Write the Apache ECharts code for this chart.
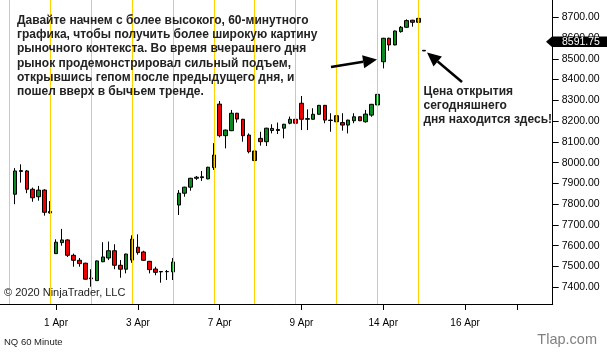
<!DOCTYPE html>
<html>
<head>
<meta charset="utf-8">
<script src="https://cdn.jsdelivr.net/npm/echarts@6/dist/echarts.min.js"></script>
<style>
html,body{margin:0;padding:0;background:#fff;}
#c{width:607px;height:352px;}
</style>
</head>
<body>
<div id="c"></div>
<script>
// Hourly bars (bar 1 .. bar 71)
const opens  = [7848,7958,7960,7872,7836,7868,7765, 7562,7615,7628,7554,7530,7516,7445, 7432,7523,7541,7576,7506,7487,7531, 7593,7570,7525,7488,7476,7475,7474, 7796,7853,7882,7925,7928,7922,7976, 8282,8130,8154,8238,8209,8133,8056, 8117,8101,8155,8160,8166,8190,8209, 8286,8209,8209,8233,8276,8205,8197, 8193,8181,8202,8221,8197,8229,8278, 8486,8599,8567,8631,8652,8686,8676, 8541];
const closes = [7960,7962,7872,7831,7868,7761,7758, 7617,7628,7554,7530,7514,7439,7441, 7527,7546,7576,7506,7487,7560,7632, 7567,7530,7485,7472,7474,7476,7522, 7853,7882,7925,7930,7932,7978,8037, 8130,8157,8238,8210,8130,8053,8010, 8101,8166,8165,8155,8185,8209,8190, 8209,8212,8233,8276,8205,8203,8226, 8181,8205,8221,8202,8234,8281,8329, 8599,8567,8634,8652,8684,8676,8695, 8538];
const lows   = [7800,7904,7853,7812,7817,7745,7755, 7562,7600,7546,7499,7499,7437,7403, 7430,7521,7531,7487,7446,7467,7518, 7557,7528,7467,7458,7422,7435,7435, 7748,7836,7865,7917,7912,7920,7965, 8122,8069,8152,8193,8101,8045,7989, 8082,8080,8141,8138,8117,8185,8153, 8157,8157,8207,8231,8190,8149,8173, 8154,8141,8190,8200,8193,8221,8270, 8454,8539,8565,8626,8650,8655,8668, 8538];
const highs  = [7974,7992,7965,7880,7888,7872,7815, 7631,7681,7631,7562,7541,7518,7487, 7529,7617,7620,7607,7531,7562,7650, 7655,7576,7527,7499,7477,7483,7541, 7868,7884,7927,7936,7960,7980,8094, 8297,8159,8254,8240,8211,8141,8161, 8149,8168,8185,8193,8187,8222,8241, 8321,8257,8262,8278,8278,8238,8243, 8238,8207,8238,8223,8254,8283,8334, 8601,8602,8636,8658,8690,8688,8706, 8541];

// bar numbers of the day-separator lines, date ticks and their labels
const dayLineBars = [0,7,14,21,28,35,42,49,56,63,70];
const dateTickBars = [8,22,36,50,64,78,87];
const dateTickLabels = ['1 Apr','3 Apr','7 Apr','9 Apr','14 Apr','16 Apr',''];
const yTicks = [7400,7500,7600,7700,7800,7900,8000,8100,8200,8300,8400,8500,8600,8700];
const lastPrice = 8591.75;

const textBlock1 = [
  'Давайте начнем с более высокого, 60-минутного',
  'графика, чтобы получить более широкую картину',
  'рыночного контекста. Во время вчерашнего дня',
  'рынок продемонстрировал сильный подъем,',
  'открывшись гепом после предыдущего дня, и',
  'пошел вверх в бычьем тренде.'
];
const textBlock2 = ['Цена открытия','сегодняшнего','дня находится здесь!'];

// category slots: bar k sits at category index k+2
const FIRST_BAR = -2, LAST_BAR = 93;
const cats = [];
const candleData = [];
for (let k = FIRST_BAR; k <= LAST_BAR; k++) {
  cats.push(String(k));
  if (k >= 1 && k <= opens.length) {
    candleData.push([opens[k-1], closes[k-1], lows[k-1], highs[k-1]]);
  } else {
    candleData.push('-');
  }
}
const idxOf = k => k - FIRST_BAR;
const tickIdx = {};
dateTickBars.forEach((b,i)=>{ tickIdx[idxOf(b)] = dateTickLabels[i]; });

const chart = echarts.init(document.getElementById('c'), null, {renderer:'canvas'});
const FONT = '"Liberation Sans", Arial, sans-serif';

chart.setOption({
  animation: false,
  backgroundColor: '#fff',
  grid: { left: -2.38, right: 54.3, top: 0, bottom: 48, containLabel: false, outerBoundsMode: 'none' },
  xAxis: {
    type: 'category', data: cats, boundaryGap: false,
    axisLine: { show: true, lineStyle: { color: '#000', width: 1 } },
    axisTick: { show: true, length: 6, lineStyle: { color: '#000' },
      interval: (i) => tickIdx.hasOwnProperty(i) },
    axisLabel: { show: true, margin: 14, color: '#000', fontSize: 10, fontFamily: FONT,
      interval: (i) => tickIdx.hasOwnProperty(i) && tickIdx[i] !== '',
      formatter: (v, i) => tickIdx[i] || '' },
    splitLine: { show: false }
  },
  yAxis: {
    type: 'value', position: 'right', min: 7319.5, max: 8783.3,
    axisLine: { show: true, lineStyle: { color: '#000', width: 1 } },
    axisTick: { show: true, length: 6, lineStyle: { color: '#000' }, customValues: yTicks },
    axisLabel: { show: true, margin: 9, color: '#000', fontSize: 10.5, fontFamily: FONT,
      customValues: yTicks, formatter: v => Number(v).toFixed(2) },
    splitLine: { show: false }
  },
  series: [{
    type: 'candlestick',
    data: candleData,
    barWidth: 4,
    itemStyle: { color: '#0a8a1f', color0: '#ee0000', borderColor: '#000', borderColor0: '#000', borderWidth: 1 },
    markLine: {
      silent: true, symbol: ['none','none'], animation: false,
      label: { show: false },
      lineStyle: { color: '#FFD200', width: 1, type: 'solid' },
      emphasis: { disabled: true },
      data: dayLineBars.map(b => ({ xAxis: idxOf(b) }))
    },
    z: 3
  }]
});

// annotations
function arrow(x1,y1,x2,y2){
  const dx=x2-x1, dy=y2-y1, L=Math.hypot(dx,dy), ux=dx/L, uy=dy/L;
  const hl=14, hw=6.5;
  const bx=x2-hl*ux, by=y2-hl*uy, nx=-uy, ny=ux;
  return [
    { type:'line', shape:{x1:x1,y1:y1,x2:bx,y2:by}, style:{stroke:'#000', lineWidth:2.5}, z:50 },
    { type:'polygon', shape:{points:[[x2,y2],[bx+hw*nx,by+hw*ny],[bx-hw*nx,by-hw*ny]]}, style:{fill:'#000'}, z:50 }
  ];
}
const g = [];
textBlock1.forEach((t,i)=>g.push({type:'text', z:60, style:{text:t, x:17, y:20.7+i*14.2, verticalAlign:'middle', font:'bold 12px '+FONT, fill:'#222'}}));
textBlock2.forEach((t,i)=>g.push({type:'text', z:60, style:{text:t, x:423.5, y:91.7+i*13.8, verticalAlign:'middle', font:'bold 12px '+FONT, fill:'#222'}}));
g.push({type:'text', z:60, style:{text:'© 2020 NinjaTrader, LLC', x:4, y:292.7, verticalAlign:'middle', font:'11px '+FONT, fill:'#222'}});
g.push({type:'text', z:60, style:{text:'NQ 60 Minute', x:4, y:342.8, verticalAlign:'middle', font:'9.5px '+FONT, fill:'#222'}});
g.push({type:'text', z:60, style:{text:'Tlap.com', x:597, y:339.5, align:'right', verticalAlign:'middle', font:'14.5px '+FONT, fill:'#808080'}});
g.push(...arrow(331,67,377,59.5));
g.push(...arrow(462,82,427,52.5));
const py = chart.convertToPixel({yAxisIndex:0}, lastPrice) + 1.9;
g.push({type:'polygon', z:70, shape:{points:[[546,py],[552,py-5.3],[607,py-5.3],[607,py+5.3],[552,py+5.3]]}, style:{fill:'#000'}});
g.push({type:'text', z:71, style:{text:lastPrice.toFixed(2), x:562, y:py, verticalAlign:'middle', font:'10.5px '+FONT, fill:'#fff'}});
chart.setOption({ graphic: g });
</script>
</body>
</html>
